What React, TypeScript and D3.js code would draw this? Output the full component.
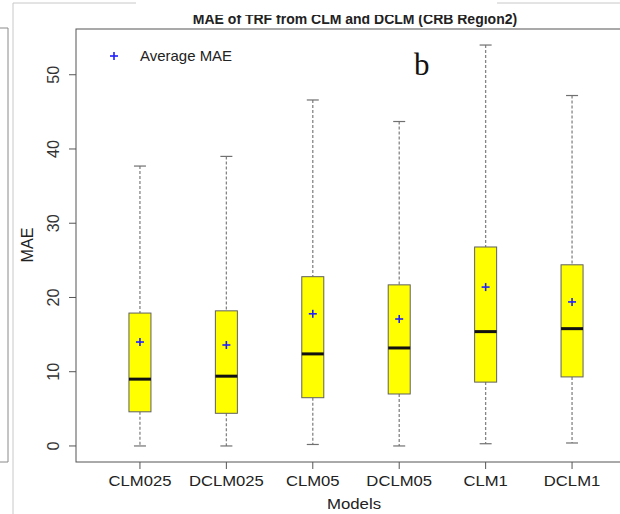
import React from "react";
import * as d3 from "d3";

// box plot stats (MAE)
const models = ["CLM025", "DCLM025", "CLM05", "DCLM05", "CLM1", "DCLM1"];
const whiskerLow = [0, 0, 0.2, 0, 0.3, 0.4];
const q1 = [4.6, 4.4, 6.5, 7.0, 8.6, 9.3];
const medians = [9.0, 9.4, 12.4, 13.2, 15.4, 15.8];
const q3 = [17.9, 18.2, 22.8, 21.7, 26.8, 24.4];
const whiskerHigh = [37.7, 39.0, 46.6, 43.7, 54.0, 47.2];
const means = [14.0, 13.6, 17.8, 17.1, 21.4, 19.4];
const yTicks = [0, 10, 20, 30, 40, 50];

const W = 620;
const H = 514;
const font = "'Liberation Sans', Arial, sans-serif";

const App = () => {
  // R style: xlim/ylim padded by 4%
  const x = d3.scaleLinear().domain([0.26, 6.74]).range([76, 636]);
  const y = d3.scaleLinear().domain([-2.16, 56.16]).range([462, 29]);

  const boxHalf = 11;
  const capHalf = 6;
  const plotTop = y(56.16);
  const plotBottom = y(-2.16);
  const plotLeft = x(0.26);

  const boxes = models.map((m, i) => ({
    name: m,
    cx: x(i + 1),
    lo: whiskerLow[i],
    q1: q1[i],
    med: medians[i],
    q3: q3[i],
    hi: whiskerHigh[i],
    mean: means[i],
  }));

  return (
    <div style={{ position: "fixed", left: 0, top: 0 }}>
      <svg width={W} height={H} viewBox={`0 0 ${W} ${H}`} style={{ display: "block", background: "#fff" }}>
        {/* bits of neighbouring panels */}
        <line x1={13} x2={13} y1={3} y2={H} stroke="#c8c8c8" />
        <line x1={13} x2={136} y1={3} y2={3} stroke="#c8c8c8" />
        <line x1={497} x2={W} y1={3} y2={3} stroke="#c8c8c8" />
        <path d="M0,28 H8 V462 H0" fill="none" stroke="#8a8a8a" />

        {/* title, top slightly cut off */}
        <text x={355} y={24} textAnchor="middle" fontFamily={font} fontWeight="bold" fontSize={14} fill="#222">
          MAE of TRF from CLM and DCLM (CRB Region2)
        </text>
        <rect x={137} y={0} width={359} height={15} fill="#fff" />

        {/* plot frame */}
        <rect x={plotLeft} y={plotTop} width={700} height={plotBottom - plotTop} fill="none" stroke="#555" />

        {/* y axis */}
        {yTicks.map(t => (
          <g key={t}>
            <line x1={plotLeft - 7} x2={plotLeft} y1={y(t)} y2={y(t)} stroke="#555" />
            <text
              transform={`translate(${53},${y(t)}) rotate(-90) scale(1.15,1.2)`}
              textAnchor="middle"
              dy="0.36em"
              fontFamily={font}
              fontSize={14}
              fill="#333"
            >
              {t}
            </text>
          </g>
        ))}
        <text
          transform={`translate(27,245) rotate(-90) scale(1.15,1.15)`}
          textAnchor="middle"
          dy="0.36em"
          fontFamily={font}
          fontSize={14}
          fill="#222"
        >
          MAE
        </text>

        {/* x axis */}
        {boxes.map(b => (
          <g key={b.name}>
            <line x1={b.cx} x2={b.cx} y1={plotBottom} y2={plotBottom + 7} stroke="#555" />
            <text
              transform={`translate(${b.cx},486) scale(1.19,1)`}
              textAnchor="middle"
              fontFamily={font}
              fontSize={14}
              fill="#222"
            >
              {b.name}
            </text>
          </g>
        ))}
        <text transform="translate(354,509) scale(1.2,1)" textAnchor="middle" fontFamily={font} fontSize={14} fill="#222">
          Models
        </text>

        {/* boxes */}
        {boxes.map(b => (
          <g key={b.name + "-box"}>
            <line x1={b.cx} x2={b.cx} y1={y(b.hi)} y2={y(b.q3)} stroke="#858585" strokeWidth={1.3} strokeDasharray="3,2" />
            <line x1={b.cx} x2={b.cx} y1={y(b.q1)} y2={y(b.lo)} stroke="#858585" strokeWidth={1.3} strokeDasharray="3,2" />
            <line x1={b.cx - capHalf} x2={b.cx + capHalf} y1={y(b.hi)} y2={y(b.hi)} stroke="#707070" strokeWidth={1.2} />
            <line x1={b.cx - capHalf} x2={b.cx + capHalf} y1={y(b.lo)} y2={y(b.lo)} stroke="#707070" strokeWidth={1.2} />
            <rect
              x={b.cx - boxHalf}
              y={y(b.q3)}
              width={boxHalf * 2}
              height={y(b.q1) - y(b.q3)}
              fill="#ffff00"
              stroke="#606060"
            />
            <line x1={b.cx - boxHalf} x2={b.cx + boxHalf} y1={y(b.med)} y2={y(b.med)} stroke="#111" strokeWidth={3} />
            <line x1={b.cx - 4} x2={b.cx + 4} y1={y(b.mean)} y2={y(b.mean)} stroke="#2020ff" strokeWidth={1.6} />
            <line x1={b.cx} x2={b.cx} y1={y(b.mean) - 4} y2={y(b.mean) + 4} stroke="#2020ff" strokeWidth={1.6} />
          </g>
        ))}

        {/* legend */}
        <line x1={110} x2={118} y1={56} y2={56} stroke="#2020ff" strokeWidth={1.6} />
        <line x1={114} x2={114} y1={52} y2={60} stroke="#2020ff" strokeWidth={1.6} />
        <text transform="translate(140,61) scale(1.07,1)" fontFamily={font} fontSize={14} fill="#222">
          Average MAE
        </text>

        {/* panel letter */}
        <text x={414} y={75} fontFamily="'Liberation Serif', 'Times New Roman', serif" fontSize={31} fill="#111">
          b
        </text>
      </svg>
    </div>
  );
};

export default App;
